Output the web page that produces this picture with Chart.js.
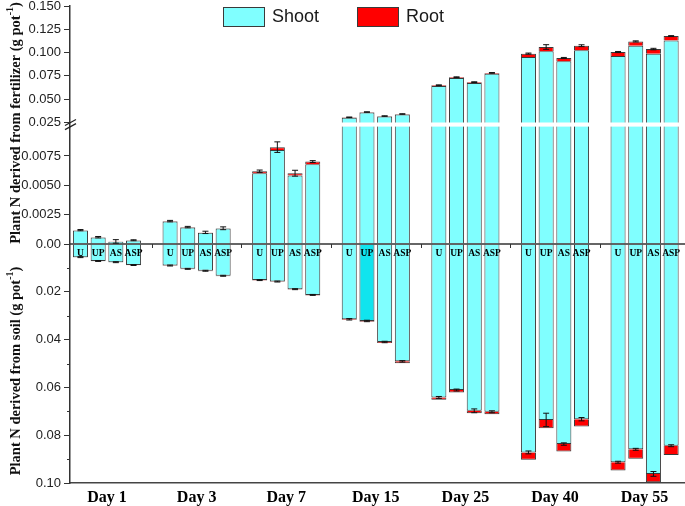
<!DOCTYPE html>
<html>
<head>
<meta charset="utf-8">
<script src="https://cdn.jsdelivr.net/npm/chart.js@4/dist/chart.umd.min.js"></script>
<style>
html,body{margin:0;padding:0;background:#fff;}
#wrap{width:685px;height:506px;position:relative;}
</style>
</head>
<body>
<div id="wrap"><canvas id="c" width="685" height="506"></canvas></div>
<script>
// ---------------- data ----------------
const days = ['Day 1', 'Day 3', 'Day 7', 'Day 15', 'Day 25', 'Day 40', 'Day 55'];
const treatments = ['U', 'UP', 'AS', 'ASP'];

// N derived from fertilizer (g pot-1)
const fertShootU   = [0.00116, 0.00192, 0.00603, 0.0302, 0.0642, 0.0953, 0.0963];
const fertRootU    = [0.00002, 0.00003, 0.00017, 0.0004, 0.0008, 0.0036, 0.0043];
const fertShootUP  = [0.00056, 0.00141, 0.00800, 0.0358, 0.0728, 0.1014, 0.1074];
const fertRootUP   = [0.00002, 0.00003, 0.00025, 0.0004, 0.0008, 0.0046, 0.0046];
const fertShootAS  = [0.00020, 0.00096, 0.00583, 0.0315, 0.0675, 0.0907, 0.0989];
const fertRootAS   = [0.00002, 0.00003, 0.00020, 0.0004, 0.0008, 0.0035, 0.0049];
const fertShootASP = [0.00030, 0.00131, 0.00680, 0.0337, 0.0774, 0.1024, 0.1131];
const fertRootASP  = [0.00002, 0.00003, 0.00022, 0.0004, 0.0008, 0.0050, 0.0046];

const fertErrU   = [0.00005, 0.00006, 0.00010, 0.0003, 0.0004, 0.0006, 0.0006];
const fertErrUP  = [0.00006, 0.00006, 0.00045, 0.0003, 0.0004, 0.0025, 0.0006];
const fertErrAS  = [0.00015, 0.00010, 0.00025, 0.0003, 0.0004, 0.0006, 0.0008];
const fertErrASP = [0.00004, 0.00012, 0.00008, 0.0003, 0.0004, 0.0010, 0.0005];

// N derived from soil (g pot-1)
const soilShootU   = [0.0055, 0.0090, 0.0151, 0.0315, 0.0642, 0.0872, 0.0913];
const soilRootU    = [0.0001, 0.0002, 0.0002, 0.0003, 0.0010, 0.0031, 0.0035];
const soilShootUP  = [0.0071, 0.0104, 0.0157, 0.0322, 0.0611, 0.0736, 0.0859];
const soilRootUP   = [0.0001, 0.0002, 0.0002, 0.0003, 0.0010, 0.0035, 0.0040];
const soilShootAS  = [0.0076, 0.0112, 0.0189, 0.0410, 0.0698, 0.0837, 0.0962];
const soilRootAS   = [0.0001, 0.0002, 0.0002, 0.0004, 0.0010, 0.0031, 0.0035];
const soilShootASP = [0.0088, 0.0133, 0.0213, 0.0491, 0.0702, 0.0733, 0.0844];
const soilRootASP  = [0.0001, 0.0002, 0.0003, 0.0008, 0.0010, 0.0031, 0.0039];

const soilErrU   = [0.0002, 0.0002, 0.0002, 0.0003, 0.0004, 0.0006, 0.0004];
const soilErrUP  = [0.0002, 0.0002, 0.0002, 0.0003, 0.0004, 0.0028, 0.0004];
const soilErrAS  = [0.0002, 0.0002, 0.0002, 0.0003, 0.0008, 0.0005, 0.0010];
const soilErrASP = [0.0002, 0.0002, 0.0002, 0.0003, 0.0004, 0.0007, 0.0004];

// y-axis ticks (soil part is plotted downward as negative values)
const yTickValues = [-0.10, -0.08, -0.06, -0.04, -0.02, 0, 0.0025, 0.005, 0.0075, 0.025, 0.05, 0.075, 0.1, 0.125, 0.15];
const yTickLabels = ['0.10', '0.08', '0.06', '0.04', '0.02', '0.00', '0.0025', '0.0050', '0.0075', '0.025', '0.050', '0.075', '0.100', '0.125', '0.150'];
const yMinorValues = [-0.01, -0.03, -0.05, -0.07, -0.09];
const breakLow = 0.010, breakHigh = 0.025;

// ---------------- styles ----------------
const CYAN = '#80FFFF', CYAN_DARK = '#10E4EE', RED = '#FF0000', EDGE = '#3a3a3a';
const SERIF = "'Liberation Serif','Times New Roman',serif";
const SANS = "'Liberation Sans',Arial,sans-serif";

// piecewise (broken) linear scale built on Chart.js LinearScale
class BrokenScale extends Chart.LinearScale {
  _frac(v) {
    const k = this.options.knots;
    if (v <= k[0][0]) return k[0][1] + (v - k[0][0]) * (k[1][1] - k[0][1]) / (k[1][0] - k[0][0]);
    for (let i = 1; i < k.length; i++) {
      if (v <= k[i][0] || i === k.length - 1) {
        return k[i-1][1] + (v - k[i-1][0]) * (k[i][1] - k[i-1][1]) / (k[i][0] - k[i-1][0]);
      }
    }
  }
  buildTicks() { return (this.options.tickValues || []).map(v => ({ value: v })); }
  getPixelForValue(v) { return this.bottom - this._frac(v) * (this.bottom - this.top); }
  getValueForPixel(p) {
    const f = (this.bottom - p) / (this.bottom - this.top);
    const k = this.options.knots;
    for (let i = 1; i < k.length; i++) {
      if (f <= k[i][1] || i === k.length - 1) {
        return k[i-1][0] + (f - k[i-1][1]) * (k[i][0] - k[i-1][0]) / (k[i][1] - k[i-1][1]);
      }
    }
  }
}
BrokenScale.id = 'broken';
BrokenScale.defaults = Chart.LinearScale.defaults;
Chart.register(BrokenScale);

const series = treatments.map((t, k) => ({
  name: t,
  fs: [fertShootU, fertShootUP, fertShootAS, fertShootASP][k],
  fr: [fertRootU, fertRootUP, fertRootAS, fertRootASP][k],
  fe: [fertErrU, fertErrUP, fertErrAS, fertErrASP][k],
  ss: [soilShootU, soilShootUP, soilShootAS, soilShootASP][k],
  sr: [soilRootU, soilRootUP, soilRootAS, soilRootASP][k],
  se: [soilErrU, soilErrUP, soilErrAS, soilErrASP][k]
}));

const pts = arr => arr.map((v, i) => ({ x: i, y: v }));
const common = { borderColor: EDGE, borderWidth: 1, borderSkipped: 'start', categoryPercentage: 0.79, barPercentage: 0.85 };
const datasets = [];
series.forEach(s => {
  datasets.push(Object.assign({ label: 'Shoot', stack: s.name, data: pts(s.fs), backgroundColor: CYAN }, common));
  datasets.push(Object.assign({ label: 'Root', stack: s.name, data: pts(s.fr), backgroundColor: RED }, common));
  datasets.push(Object.assign({ label: 'Shoot', stack: s.name, data: pts(s.ss.map(v => -v)),
    backgroundColor: c => (s.name === 'UP' && c.dataIndex === 3) ? CYAN_DARK : CYAN }, common));
  datasets.push(Object.assign({ label: 'Root', stack: s.name, data: pts(s.sr.map(v => -v)), backgroundColor: RED }, common));
});

function seg(ctx, x1, y1, x2, y2) { ctx.beginPath(); ctx.moveTo(x1, y1); ctx.lineTo(x2, y2); ctx.stroke(); }

const decor = {
  id: 'decor',
  afterDatasetsDraw(chart) {
    const { ctx, chartArea: a, scales: { x, y } } = chart;
    ctx.save();
    // axis break band
    const yb1 = y.getPixelForValue(breakLow), yb2 = y.getPixelForValue(breakHigh);
    ctx.fillStyle = '#fff';
    ctx.fillRect(a.left + 1, yb2, a.right - a.left, yb1 - yb2);
    // zero line
    const y0 = y.getPixelForValue(0);
    ctx.strokeStyle = '#333'; ctx.lineWidth = 1.3;
    seg(ctx, a.left, y0, a.right, y0);
    ctx.lineWidth = 1;
    for (let i = 0; i < days.length - 1; i++) {
      const px = Math.round(x.getPixelForValue(i + 0.5)) + 0.5;
      seg(ctx, px, y0, px, y0 + 4);
    }
    // error bars and treatment labels
    ctx.strokeStyle = '#111'; ctx.lineWidth = 1;
    ctx.fillStyle = '#000';
    ctx.font = "bold 9.5px " + SERIF;
    ctx.textAlign = 'center'; ctx.textBaseline = 'middle';
    series.forEach((s, k) => {
      const meta = chart.getDatasetMeta(k * 4 + 1);
      days.forEach((d, i) => {
        const bx = meta.data[i].x;
        const draws = [[s.fs[i] + s.fr[i], s.fe[i]], [-s.ss[i], s.se[i]]];
        draws.forEach(([v, e]) => {
          const p1 = y.getPixelForValue(v + e), p2 = y.getPixelForValue(v - e);
          seg(ctx, bx, p1, bx, p2);
          seg(ctx, bx - 3, p1, bx + 3, p1);
          seg(ctx, bx - 3, p2, bx + 3, p2);
        });
        ctx.fillText(s.name, bx, y0 + 9.5);
      });
    });
    // minor ticks on soil axis
    ctx.strokeStyle = '#333';
    yMinorValues.forEach(v => { const py = Math.round(y.getPixelForValue(v)) + 0.5; seg(ctx, a.left - 3, py, a.left, py); });
    // break marks
    ctx.lineWidth = 1.2; ctx.strokeStyle = '#222';
    [yb2, yb1].forEach(py => seg(ctx, a.left - 5, py + 3, a.left + 6, py - 3));
    ctx.restore();
  },
  afterDraw(chart) {
    const { ctx } = chart;
    ctx.save();
    // legend
    const items = [{ label: chart.data.datasets[0].label, color: CYAN, x: 223 }, { label: chart.data.datasets[1].label, color: RED, x: 357 }];
    items.forEach(it => {
      ctx.fillStyle = it.color; ctx.fillRect(it.x, 7, 42, 20);
      ctx.strokeStyle = EDGE; ctx.lineWidth = 1; ctx.strokeRect(it.x + 0.5, 7.5, 41, 19);
      ctx.fillStyle = '#1a1a1a'; ctx.font = "18px " + SANS; ctx.textAlign = 'left'; ctx.textBaseline = 'middle';
      ctx.fillText(it.label, it.x + 49, 17.5);
    });
    // y-axis titles
    const titles = [{ text: 'Plant N derived from fertilizer (g pot', cy: 123 }, { text: 'Plant N derived from soil (g pot', cy: 371 }];
    titles.forEach(t => {
      ctx.save();
      ctx.translate(16, t.cy);
      ctx.rotate(-Math.PI / 2);
      ctx.fillStyle = '#111';
      const fMain = "bold 14.5px " + SERIF, fSup = "bold 10px " + SERIF;
      ctx.font = fMain; const w1 = ctx.measureText(t.text).width; const w3 = ctx.measureText(')').width;
      ctx.font = fSup; const w2 = ctx.measureText('-1').width;
      let cx = -(w1 + w2 + w3) / 2;
      ctx.textAlign = 'left'; ctx.textBaseline = 'middle';
      ctx.font = fMain; ctx.fillText(t.text, cx, 0); cx += w1;
      ctx.font = fSup; ctx.fillText('-1', cx, -6); cx += w2;
      ctx.font = fMain; ctx.fillText(')', cx, 0);
      ctx.restore();
    });
    ctx.restore();
  }
};

new Chart(document.getElementById('c'), {
  type: 'bar',
  data: { datasets },
  options: {
    responsive: false,
    animation: false,
    devicePixelRatio: 1,
    layout: { padding: { top: 6, right: 0, bottom: 0, left: 0 } },
    plugins: { legend: { display: false }, tooltip: { enabled: false } },
    scales: {
      x: {
        type: 'linear',
        stacked: true,
        offset: false,
        min: -0.413,
        max: 6.451,
        afterBuildTicks: s => { s.ticks = days.map((d, i) => ({ value: i })); },
        afterFit: s => { s.height = 23; s.paddingLeft = 0; s.paddingRight = 0; },
        grid: { display: false, drawTicks: false, offset: false },
        border: { display: true, color: '#444', width: 1.5 },
        ticks: {
          autoSkip: false, maxRotation: 0, padding: 5,
          color: '#000',
          font: { family: SERIF, size: 16, weight: 'bold' },
          callback: v => (Number.isInteger(v) && days[v]) ? days[v] : ''
        }
      },
      y: {
        type: 'broken',
        stacked: true,
        min: -0.10,
        max: 0.15,
        tickValues: yTickValues,
        knots: [[-0.10, 0], [0, 239 / 477], [breakLow, 356.4 / 477], [breakHigh, 360.5 / 477], [0.15, 1]],
        afterFit: s => { s.width = 70; s.paddingTop = 0; s.paddingBottom = 0; },
        grid: { drawOnChartArea: false, drawTicks: true, tickLength: 6, tickColor: '#333', tickWidth: 1 },
        border: { display: true, color: '#333', width: 1.5 },
        ticks: {
          autoSkip: false, padding: 3, color: '#222',
          font: { family: SANS, size: 13 },
          callback: (v, i) => yTickLabels[i]
        }
      }
    }
  },
  plugins: [decor]
});
</script>
</body>
</html>
